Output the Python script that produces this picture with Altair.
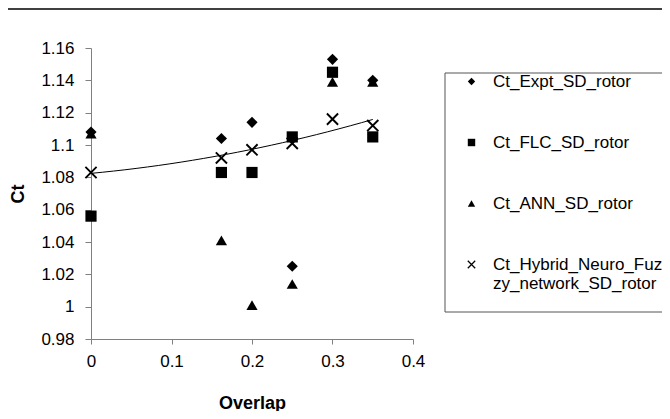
import altair as alt
import pandas as pd

# ---- data ----
overlap = [0.0, 0.162, 0.2, 0.25, 0.3, 0.35]
ct_expt = [1.108, 1.104, 1.114, 1.025, 1.153, 1.140]
ct_flc = [1.056, 1.083, 1.083, 1.105, 1.145, 1.105]
ct_ann = [1.107, 1.041, 1.001, 1.014, 1.139, 1.139]
ct_hybrid = [1.083, 1.092, 1.097, 1.101, 1.116, 1.112]

series_names = [
    "Ct_Expt_SD_rotor",
    "Ct_FLC_SD_rotor",
    "Ct_ANN_SD_rotor",
    "Ct_Hybrid_Neuro_Fuzzy_network_SD_rotor",
]
x_ticks = [0, 0.1, 0.2, 0.3, 0.4]
y_ticks = [0.98, 1.0, 1.02, 1.04, 1.06, 1.08, 1.1, 1.12, 1.14, 1.16]

FONT = "Liberation Sans"

rows = []
for name, vals in zip(series_names, [ct_expt, ct_flc, ct_ann, ct_hybrid]):
    for xv, yv in zip(overlap, vals):
        rows.append({"overlap": xv, "ct": yv, "series": name})
df = pd.DataFrame(rows)
hyb_df = pd.DataFrame({"overlap": overlap, "ct": ct_hybrid})

x_scale = alt.Scale(domain=[0, 0.4], nice=False, zero=False)
y_scale = alt.Scale(domain=[0.98, 1.16], nice=False, zero=False)

x_axis = alt.Axis(values=x_ticks, format="~g", title="Overlap", tickSize=5,
                  labelPadding=9, titlePadding=25, labelOverlap=False,
                  labelFlush=False)
y_axis = alt.Axis(values=y_ticks, format="~g", title="Ct", tickSize=6,
                  labelPadding=11, titlePadding=13, labelOverlap=False,
                  labelFlush=False)

# filled "x" glyph made of two thin bars
x_glyph = ("M-0.88,-1.12L1.12,0.88L0.88,1.12L-1.12,-0.88Z"
           "M-1.12,0.88L0.88,-1.12L1.12,-0.88L-0.88,1.12Z")
shape_range = ["diamond", "square", "triangle-up", x_glyph]

points = alt.Chart(df).mark_point(
    filled=True, size=125, opacity=1
).encode(
    x=alt.X("overlap:Q", scale=x_scale, axis=x_axis),
    y=alt.Y("ct:Q", scale=y_scale, axis=y_axis),
    shape=alt.Shape(
        "series:N",
        scale=alt.Scale(domain=series_names, range=shape_range),
        legend=alt.Legend(
            title=None, orient="none", legendX=372, legendY=25,
            labelFont=FONT, labelFontSize=17, labelColor="black",
            labelOffset=13, rowPadding=43, symbolSize=55,
            symbolFillColor="black",
            labelLimit=300,
            labelExpr="length(datum.label) > 20 ? [slice(datum.label, 0, 19), slice(datum.label, 19)] : datum.label",
        ),
    ),
    color=alt.value("black"),
)

trend = alt.Chart(hyb_df).transform_regression(
    "overlap", "ct", method="poly", order=2
).mark_line(color="black", strokeWidth=1).encode(
    x=alt.X("overlap:Q", scale=x_scale, axis=x_axis),
    y=alt.Y("ct:Q", scale=y_scale, axis=y_axis),
)

frame = alt.Chart(pd.DataFrame({"k": [0]})).mark_rect(
    fill="white", fillOpacity=0, stroke="#555555", strokeWidth=1
).encode(
    x=alt.value(354), x2=alt.value(640), y=alt.value(25), y2=alt.value(264)
)

top_rule = alt.Chart(pd.DataFrame({"k": [0]})).mark_rule(
    color="black", strokeWidth=1.5
).encode(
    x=alt.value(-83), x2=alt.value(575), y=alt.value(-39)
)

chart = alt.layer(frame, top_rule, trend, points).properties(
    width=322, height=291,
    autosize=alt.AutoSizeParams(type="none"),
    padding={"left": 83, "top": 40, "right": 249, "bottom": 72},
).configure_view(stroke=None).configure_axis(
    grid=False,
    labelFont=FONT, labelFontSize=17, labelColor="black",
    titleFont=FONT, titleFontSize=18, titleFontWeight="bold", titleColor="black",
    domainColor="#808080", tickColor="#808080",
)

chart.save("out.html", embed_options={"renderer": "svg", "actions": False})
